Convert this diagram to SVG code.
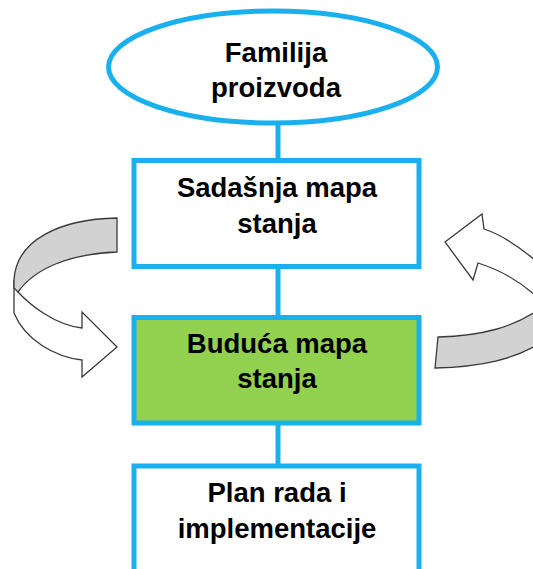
<svg xmlns="http://www.w3.org/2000/svg" width="533" height="569" viewBox="0 0 533 569">
<style>
.node{fill:#FFFFFF;stroke:#1AB0EE;stroke-width:5}
.green{fill:#92D050}
.lbl{font-family:"Liberation Sans",Arial,sans-serif;font-weight:bold;font-size:27.5px;fill:#000;text-anchor:middle}
.conn{stroke:#1AB0EE;stroke-width:5;fill:none}
.arrW{fill:#FFFFFF;stroke:#3A3A3A;stroke-width:1.3;stroke-linejoin:miter}
.arrG{fill:#D2D2D2;stroke:#3A3A3A;stroke-width:1.3}
</style>
<rect width="533" height="569" fill="#FFFFFF"/>
<g id="connectors">
<line class="conn" x1="278" y1="123" x2="278" y2="160"/>
<line class="conn" x1="278" y1="266" x2="278" y2="318"/>
<line class="conn" x1="278" y1="423" x2="278" y2="466"/>
</g>
<g id="node-familija">
<ellipse class="node" cx="273" cy="67" rx="164.5" ry="56" stroke-width="4"/>
<text class="lbl" x="276" y="62">Familija</text>
<text class="lbl" x="276" y="97">proizvoda</text>
</g>
<g id="node-sadasnja">
<rect class="node" x="134" y="160.5" width="285" height="106"/>
<text class="lbl" x="277" y="197">Sadašnja mapa</text>
<text class="lbl" x="277" y="233">stanja</text>
</g>
<g id="node-buduca">
<rect class="node green" x="134" y="317.5" width="285" height="105.5"/>
<text class="lbl" x="277" y="353">Buduća mapa</text>
<text class="lbl" x="277" y="388">stanja</text>
</g>
<g id="node-plan">
<rect class="node" x="134" y="466" width="285" height="120"/>
<text class="lbl" x="277" y="502">Plan rada i</text>
<text class="lbl" x="277" y="538">implementacije</text>
</g>
<g id="arrow-left">
<path class="arrW" d="M14,280 L14,313 C25,340 55,357 82,360 L82,377 L117,347 L82,312 L82,328 C55,325 30,305 18,292 Z"/>
<path class="arrG" d="M117,218 C60,219 16,240 14,280 L14,288 L18,292 C35,268 70,254 117,252 Z"/>
</g>
<g id="arrow-right">
<path class="arrW" d="M445,242 L482,214 L484,229 C505,236 525,250 548,272 L560,300 L540,300 C520,280 500,270 478,263 L473,280 Z"/>
<path class="arrG" d="M438,337 C480,336 515,328 545,305 L545,340 C515,360 480,367 435,368 Z"/>
</g>
</svg>
